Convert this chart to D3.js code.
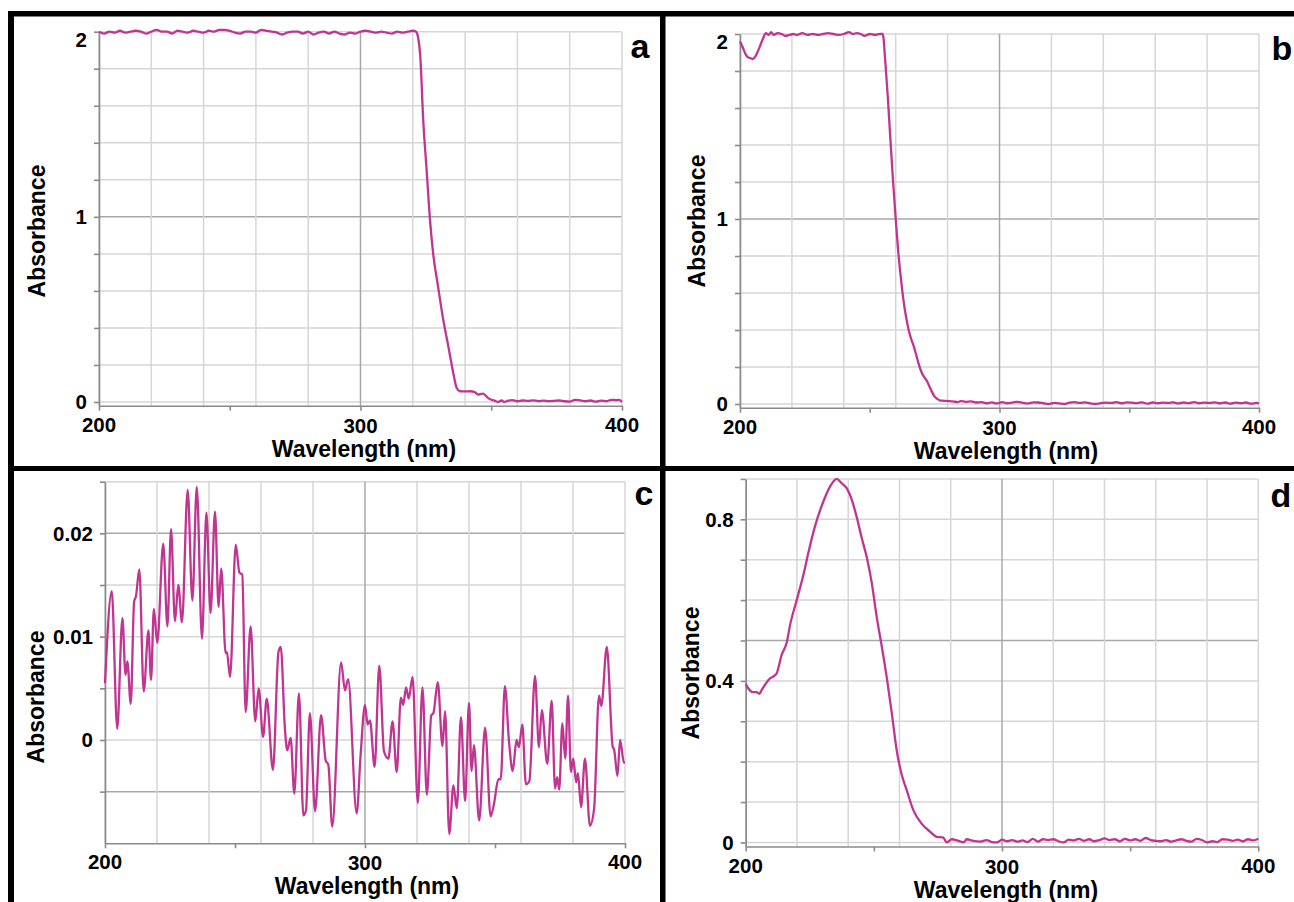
<!DOCTYPE html>
<html>
<head>
<meta charset="utf-8">
<script src="https://cdn.jsdelivr.net/npm/d3@7"></script>
<style>
  body { margin: 0; background: #fff; }
  svg { display: block; font-family: "Liberation Sans", Arial, Helvetica, sans-serif; }
  .lbl { font-weight: bold; fill: #000; }
  .axis path, .axis line { stroke: #8a8a8a; }
</style>
</head>
<body>
<svg id="chart" width="1294" height="902"></svg>
<script>
// ---- data (wavelength nm, absorbance) ----
const xLabels = [200, 300, 400];
const xTickMarks = [200, 250, 300, 350, 400];

const specA = [
  [200,2.0],[202,1.99],[204,2.0],[206,1.995],[208,2.005],[210,1.995],[212,2.0],[214,2.005],[216,2.0],[218,1.99],
  [220,2.0],[222,2.01],[224,2.0],[226,2.0],[228,1.99],[230,2.005],[232,2.0],[234,1.995],[236,2.005],[238,2.0],
  [240,1.995],[242,2.005],[244,2.0],[246,2.01],[248,2.01],[250,2.005],[252,1.995],[254,1.99],[256,2.0],[258,2.0],
  [260,1.995],[262,2.01],[264,2.005],[266,2.0],[268,1.995],[270,1.985],[272,1.995],[274,2.0],[276,2.0],[278,1.99],
  [280,2.0],[282,1.985],[284,1.995],[286,2.0],[288,1.99],[290,2.0],[292,1.99],[294,1.985],[296,1.995],[298,1.99],
  [300,2.0],[302,2.005],[304,2.0],[306,1.995],[308,2.0],[310,1.995],[312,1.99],[314,2.0],[316,1.995],[318,2.0],
  [320,2.005],[321.3,2.0],[322,1.97],[322.8,1.88],[324,1.52],[325.3,1.25],[326.6,0.98],[327.8,0.8],[329.7,0.62],
  [331.7,0.44],[333.6,0.3],[335.5,0.155],[336.8,0.075],[338,0.058],[340,0.057],[342,0.058],[343.5,0.055],[345,0.04],
  [346.5,0.045],[347.5,0.04],[348.5,0.025],[350,0.012],[351.5,0.006],[352.5,0.0],[354,0.008],[355,0.0],[356.5,0.007],
  [358,0.01],[360,0.004],[362,0.008],[364,0.006],[366,0.009],[368,0.005],[370,0.007],[372,0.005],[374,0.006],
  [376,0.008],[378,0.004],[380,0.002],[382,0.012],[384,0.009],[386,0.004],[388,0.008],[390,0.002],[392,0.007],
  [394,0.004],[396,0.012],[398,0.01],[399,0.012],[400,0.0]
];

const specB = [
  [200,1.96],[201,1.93],[202,1.895],[203,1.875],[204,1.87],[205,1.865],[206,1.88],[207,1.91],[208,1.945],[209,1.98],
  [210,2.005],[211,1.995],[212,2.01],[213,1.995],[214.5,2.005],[216,2.0],[217.5,1.99],[219,1.995],[220.5,2.0],
  [222,1.995],[224,2.005],[226,1.995],[228,2.0],[230,1.995],[232,2.0],[234,2.005],[236,2.0],[238,1.995],[240,2.0],
  [242,2.01],[243.5,2.0],[245,2.005],[246.5,2.0],[248,1.99],[250,2.0],[252,1.995],[254,2.0],[255,2.0],
  [256,1.85],[257,1.65],[258,1.42],[259,1.2],[260,1.0],[261,0.82],[262,0.68],[263,0.56],[264,0.47],[265,0.4],
  [266,0.35],[267,0.31],[268,0.26],[269,0.21],[270,0.17],[271,0.145],[272,0.125],[273,0.095],[274,0.065],[275,0.04],
  [276,0.028],[277,0.02],[278,0.018],[280,0.016],[282,0.014],[284,0.01],[285,0.016],[287,0.012],[289,0.014],
  [291,0.008],[293,0.01],[295,0.004],[297,0.009],[299,0.003],[301,0.01],[303,0.004],[305,0.008],[307,0.012],
  [309,0.006],[311,0.003],[313,0.009],[315,0.008],[317,0.004],[319,0.0],[321,0.006],[323,0.003],[325,0.0],
  [327,0.008],[329,0.01],[331,0.006],[333,0.009],[335,0.003],[337,0.0],[339,0.005],[341,0.007],[343,0.006],
  [345,0.01],[347,0.004],[349,0.009],[351,0.007],[353,0.005],[355,0.009],[357,0.002],[359,0.008],[361,0.004],
  [363,0.007],[365,0.006],[367,0.009],[369,0.003],[371,0.008],[373,0.005],[375,0.01],[377,0.004],[379,0.007],
  [381,0.006],[383,0.009],[385,0.004],[387,0.008],[389,0.002],[391,0.007],[393,0.004],[395,0.008],[397,0.002],
  [399,0.006],[400,0.004]
];

const specC = [
  [200,0.0055],[202.6,0.0144],[204.7,0.0011],[206.7,0.0118],[207.9,0.0063],[208.6,0.0076],[209.9,0.0035],
  [211.2,0.0134],[211.9,0.0139],[213.2,0.0165],[214.9,0.0047],[216.7,0.0106],[217.7,0.0058],[218.8,0.0127],
  [220.1,0.0094],[222.4,0.019],[224.0,0.011],[225.4,0.0204],[226.9,0.0115],[228.2,0.015],[229.6,0.0114],
  [231.8,0.0242],[233.6,0.0135],[235.3,0.0245],[237.3,0.0098],[239.0,0.022],[240.6,0.0123],[242.3,0.0221],
  [243.7,0.0129],[244.7,0.0166],[246.4,0.0084],[246.9,0.0085],[248.1,0.0061],[250.3,0.0189],[251.7,0.0162],
  [252.8,0.016],[254.1,0.0027],[256.0,0.011],[257.8,0.0018],[259.1,0.005],[260.8,0.0003],[262.2,0.004],
  [264.6,-0.0029],[266.7,0.0085],[267.6,0.009],[269.2,0.0011],[270.1,-0.001],[271.4,0.0002],[272.8,-0.0052],
  [274.6,0.0045],[276.3,-0.0073],[277.3,-0.0068],[278.8,0.0026],[280.8,-0.0069],[283.1,0.0024],[284.9,-0.002],
  [285.9,-0.0024],[287.4,-0.0084],[290.8,0.0075],[292.3,0.0048],[293.5,0.0059],[296.8,-0.0071],[298.3,-0.0015],
  [300.0,0.0034],[301.0,0.0015],[301.9,0.0019],[303.7,-0.0026],[305.5,0.0072],[307.3,-0.0011],[309.0,-0.0018],
  [310.6,0.0018],[312.2,-0.0031],[313.8,0.0041],[314.7,0.0034],[315.8,0.0051],[316.8,0.004],[318.3,0.0061],
  [320.3,-0.0061],[322.1,0.0051],[323.8,-0.0053],[325.5,0.0024],[326.3,0.0026],[328.0,0.0056],[329.8,-0.0006],
  [330.8,0.0028],[332.4,-0.0091],[334.0,-0.0044],[335.3,-0.0066],[336.9,0.0022],[338.5,-0.0059],[340.0,0.0036],
  [341.0,-0.003],[341.9,-0.0005],[343.9,-0.0078],[346.2,0.0012],[348.3,-0.0074],[349.6,-0.0062],[351.3,-0.0038],
  [352.2,-0.0038],[353.8,0.0052],[355.4,-0.0002],[356.8,-0.003],[358.3,0.0],[359.2,-0.0007],[360.5,0.0015],
  [361.9,-0.0043],[363.2,-0.004],[365.4,0.0062],[366.9,-0.0007],[368.0,0.0029],[370.1,-0.0023],[371.8,0.0038],
  [373.1,-0.0047],[373.9,-0.0036],[374.7,-0.0048],[375.9,0.0016],[377.0,-0.0018],[378.1,0.0043],[379.2,-0.0031],
  [380.1,-0.0018],[381.2,-0.0041],[381.9,-0.0032],[383.1,-0.0065],[384.6,-0.0018],[386.5,-0.0083],[388.1,-0.0067],
  [390.0,0.0043],[390.9,0.0033],[393.0,0.009],[395.3,-0.0007],[395.8,-0.0009],[397.1,-0.0035],[398.1,0.0],
  [399.6,-0.0022],[400,-0.0022]
];

const specD = [
  [200,0.392],[201.7,0.376],[203,0.372],[204.3,0.372],[205.3,0.368],[206.2,0.377],[207.5,0.39],[209.5,0.406],
  [211,0.412],[212.1,0.419],[214,0.464],[216,0.495],[217.3,0.538],[219.9,0.6],[222.5,0.662],[224.4,0.716],
  [227,0.782],[230.3,0.844],[232.9,0.881],[235.5,0.9],[237.5,0.889],[239.4,0.877],[241.4,0.848],[243.3,0.806],
  [245.3,0.753],[247.2,0.707],[249.2,0.642],[251.1,0.559],[253.1,0.485],[255,0.41],[257,0.32],[258.9,0.229],
  [260.9,0.167],[262.8,0.13],[265.4,0.08],[268.7,0.046],[271.9,0.027],[274.5,0.014],[277.1,0.012],[278.4,0.0],
  [280.4,0.008],[283,0.004],[285,0.0],[286.2,0.008],[288.8,0.004],[291.4,0.002],[294,0.006],[296,0.001],[298,0.0],
  [300,0.007],[302,0.003],[304,0.006],[306,0.002],[308,0.005],[310,0.001],[312,0.009],[314,0.002],[316,0.008],
  [318,0.006],[320,0.008],[322,0.003],[324,0.0],[326,0.007],[328,0.005],[330,0.009],[332,0.004],[334,0.008],
  [336,0.003],[338,0.006],[340,0.01],[342,0.006],[344,0.008],[346,0.003],[348,0.009],[350,0.005],[352,0.008],
  [354,0.004],[356,0.011],[358,0.006],[360,0.004],[362,0.003],[364,0.006],[366,0.002],[368,0.005],[370,0.008],
  [372,0.004],[374,0.002],[376,0.009],[378,0.006],[380,0.0],[382,0.003],[384,0.001],[386,0.008],[388,0.007],
  [390,0.004],[392,0.007],[394,0.003],[396,0.008],[398,0.005],[400,0.009]
];

const yLabelsAB = [0, 1, 2];
const yLabelsC = [0, 0.01, 0.02];
const yLabelsD = [0, 0.4, 0.8];

const LINE = '#c03591';
const GRID = '#d6d6d6';
const GRID_MAJOR = '#a8a8a8';

const panels = [
  { letter:'a', data:specA, xr:[99,622],   yd:[-0.02,2],    yr:[405.7,31.7],
    grid:d3.range(0,2.0001,0.2), major:[1], labels:yLabelsAB, fmt:d=>d3.format('d')(d),
    letterPos:[640,58], yTitle:[37,231], xTitle:[364] },
  { letter:'b', data:specB, xr:[740,1259], yd:[-0.02,2],    yr:[407.7,34],
    grid:d3.range(0,2.0001,0.2), major:[1], labels:yLabelsAB, fmt:d=>d3.format('d')(d),
    letterPos:[1282,60], yTitle:[697,221], xTitle:[1006] },
  { letter:'c', data:specC, xr:[105,625],  yd:[-0.01,0.025], yr:[843.3,481.7],
    grid:d3.range(-0.005,0.02501,0.005), major:[0.02,-0.005], labels:yLabelsC, fmt:d=>d===0?'0':d3.format('.2f')(d),
    letterPos:[644,505], yTitle:[36,697], xTitle:[367] },
  { letter:'d', data:specD, xr:[745.7,1258.3], yd:[-0.01,0.9], yr:[846.5,478.9],
    grid:d3.range(0,0.9001,0.1), major:[0.5], labels:yLabelsD, fmt:d=>d===0?'0':d3.format('.1f')(d),
    letterPos:[1281,507], yTitle:[691,673], xTitle:[1006] }
];

const svg = d3.select('#chart');

// outer frame and dividers
const bars = [
  {x:8, y:11, w:1286, h:5.5},
  {x:8, y:11, w:6, h:891},
  {x:660, y:11, w:5.5, h:891},
  {x:8, y:466, w:1286, h:5}
];
svg.selectAll('rect.frame').data(bars).join('rect').attr('class','frame')
  .attr('x',d=>d.x).attr('y',d=>d.y).attr('width',d=>d.w).attr('height',d=>d.h).attr('fill','#000');

function drawPanel(p) {
  const x = d3.scaleLinear().domain([200,400]).range(p.xr);
  const y = d3.scaleLinear().domain(p.yd).range(p.yr);
  const g = svg.append('g');
  const yTop = p.yr[1], yBot = p.yr[0];
  const xGrid = d3.range(200, 400.1, 20);
  const isMajorY = v => p.major.some(m => Math.abs(m - v) < 1e-9);

  // gridlines
  g.selectAll('line.hg').data(p.grid).join('line').attr('class','hg')
    .attr('x1', x(200)).attr('x2', x(400))
    .attr('y1', d=>y(d)).attr('y2', d=>y(d))
    .attr('stroke', d=>isMajorY(d) ? GRID_MAJOR : GRID)
    .attr('stroke-width', 1.5);
  g.selectAll('line.vg').data(xGrid).join('line').attr('class','vg')
    .attr('x1', d=>x(d)).attr('x2', d=>x(d))
    .attr('y1', yTop).attr('y2', yBot)
    .attr('stroke', d=>d===300 ? GRID_MAJOR : GRID)
    .attr('stroke-width', 1.5);

  // axes
  g.append('g').attr('class','axis').attr('transform',`translate(0,${yBot})`)
    .call(d3.axisBottom(x).tickValues(xTickMarks).tickSize(5).tickSizeOuter(0).tickFormat(''))
    .selectAll('path,line').attr('stroke-width',1.6);
  g.append('g').attr('class','axis').attr('transform',`translate(${x(200)},0)`)
    .call(d3.axisLeft(y).tickValues(p.grid).tickSize(5).tickSizeOuter(0).tickFormat(''))
    .selectAll('path,line').attr('stroke-width',1.6);

  // spectrum
  const line = d3.line().x(d=>x(d[0])).y(d=>y(d[1])).curve(d3.curveMonotoneX);
  g.append('path').datum(p.data)
    .attr('d', line).attr('fill','none')
    .attr('stroke', LINE).attr('stroke-width', 2.3).attr('stroke-linejoin','round');

  // y tick labels
  g.selectAll('text.yl').data(p.labels).join('text').attr('class','lbl yl')
    .attr('x', x(200) - 12)
    .attr('y', d => y(d) + (d === p.yd[1] ? 8 : 0))
    .attr('dy', '0.36em')
    .attr('text-anchor','end')
    .style('font-size','20.5px')
    .text(p.fmt);

  // x tick labels
  g.selectAll('text.xl').data(xLabels).join('text').attr('class','lbl xl')
    .attr('x', d=>x(d))
    .attr('y', d=>yBot + (d === 300 ? 27 : 26))
    .attr('text-anchor','middle')
    .style('font-size','20.5px')
    .text(d=>d);

  // axis titles
  g.append('text').attr('class','lbl')
    .attr('x', p.xTitle[0]).attr('y', yBot + 51)
    .attr('text-anchor','middle').style('font-size','23px')
    .text('Wavelength (nm)');
  g.append('text').attr('class','lbl')
    .attr('transform', `translate(${p.yTitle[0] + 8},${p.yTitle[1]}) rotate(-90)`)
    .attr('text-anchor','middle').style('font-size','23px')
    .text('Absorbance');

  // panel letter
  g.append('text').attr('class','lbl')
    .attr('x', p.letterPos[0]).attr('y', p.letterPos[1])
    .attr('text-anchor','middle').style('font-size','34px')
    .text(p.letter);
}

panels.forEach(drawPanel);
</script>
</body>
</html>
